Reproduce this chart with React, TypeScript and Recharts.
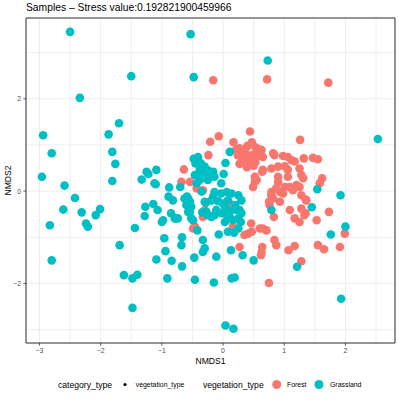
import { ScatterChart, Scatter, XAxis, YAxis, CartesianGrid, ReferenceArea } from "recharts";

const forest: number[][] = [
  [-0.16, 2.40], [0.72, 2.42], [1.72, 2.35], [0.44, 1.29], [1.26, 1.11], [-0.07, 1.19], [-0.21, 1.07], [0.17, 1.06], [-0.24, 0.78],
  [0.27, 0.93], [0.40, 0.98], [0.53, 0.95], [0.63, 0.89], [0.24, 0.78], [0.35, 0.82], [0.47, 0.78], [0.57, 0.76], [0.31, 0.67],
  [0.44, 0.63], [0.53, 0.63], [0.39, 0.52], [0.27, 0.59], [0.65, 0.74], [0.21, 0.89], [0.47, 1.06],
  [0.33, 0.72], [0.45, 0.70], [0.56, 0.85], [0.36, 0.90], [0.50, 0.55], [0.30, 0.80],
  [0.60, 0.90], [0.84, 0.78], [0.98, 0.76], [1.06, 0.74], [1.17, 0.64], [1.32, 0.71], [1.47, 0.72], [1.55, 0.69], [0.90, 0.53],
  [1.01, 0.54], [1.25, 0.49], [0.64, 0.42], [0.79, 0.49], [0.52, 0.31], [0.90, 0.31], [1.06, 0.31], [1.28, 0.35], [1.62, 0.28],
  [0.82, 0.82], [1.12, 0.67], [0.65, 0.46], [1.06, 0.46],
  [0.52, 0.20], [0.49, 0.09], [0.90, 0.20], [1.20, 0.13], [1.01, 0.09], [0.93, -0.02], [1.14, 0.02], [1.25, 0.09], [0.79, -0.02],
  [0.82, -0.16], [0.76, -0.30], [0.93, -0.23], [1.09, -0.41], [1.17, -0.59], [1.25, -0.67], [1.28, -0.38], [1.36, -0.20], [1.53, -0.63],
  [1.58, 0.17], [1.73, -0.45], [1.99, -0.92], [0.65, -0.81], [0.46, -0.70], [0.35, -0.95], [0.84, -1.06], [0.87, -1.17], [0.27, -1.21],
  [0.64, -1.21], [1.55, -1.17], [1.91, -1.21], [0.16, -0.77],
  [1.65, -1.26], [1.28, -1.52], [1.17, -1.19], [1.07, -1.28], [0.75, -1.99], [0.71, -0.85], [0.62, -1.39], [0.47, -0.88], [0.83, -0.56],
  [0.79, -0.09], [1.35, -0.48], [1.35, -0.18], [1.28, -0.09], [0.98, -0.05], [1.09, 0.09], [1.31, 0.28], [0.87, 0.06], [0.55, 0.24],
  [1.33, -0.52], [0.75, -0.23], [0.41, -0.92], [0.63, -1.32], [0.11, -0.27],
  [-0.64, 0.47], [-0.68, 0.20], [-0.54, 0.20], [-0.43, 0.06], [-0.33, 0.02], [-0.30, -0.41], [-0.49, -0.81], [-0.33, -0.56],
  [-0.46, -0.77], [0.08, -0.23], [0.60, -0.81],
];

const grassland: number[][] = [
  [-2.50, 3.45], [-0.53, 3.40], [-1.50, 2.49], [-0.48, 2.47], [-2.34, 2.02], [0.73, 2.83], [2.53, 1.13],
  [-2.94, 1.21], [-2.80, 0.82], [-2.96, 0.31], [-1.87, 1.23], [-1.70, 1.47], [-1.81, 0.85], [-1.76, 0.59], [-1.81, 0.22],
  [-2.59, 0.12], [-2.42, -0.15], [-2.61, -0.40], [-2.31, -0.46], [-2.83, -0.74], [-2.24, -0.70], [-2.21, -0.77], [-2.08, -0.52],
  [-2.01, -0.39], [-2.80, -1.50],
  [-1.33, 0.25], [-1.22, 0.37], [-1.25, 0.42], [-1.10, 0.15], [-1.44, -0.80], [-1.69, -1.17], [-1.62, -1.82], [-1.48, -1.89],
  [-1.40, -1.81], [-1.48, -2.53],
  [-1.27, -0.34], [-1.28, -0.54], [-1.14, -0.28], [-1.07, -0.41], [-1.00, -0.67], [-0.96, -1.02], [-0.94, -1.30], [-1.09, -1.48],
  [-0.84, -1.51], [-0.91, -1.89],
  [-0.67, -1.63], [-0.68, -1.17], [-0.67, -1.00], [-0.85, -0.48], [-0.76, -0.59], [-0.89, -0.12], [-0.88, 0.08], [-0.70, 0.09],
  [-0.59, -0.12], [-0.54, -0.23],
  [-0.54, -0.45], [-0.49, -0.63], [-0.42, -0.85], [-0.33, -1.06], [-0.33, -1.32], [-0.47, -1.44], [-0.46, -1.92], [-0.34, -0.46],
  [-0.28, -0.25], [-0.35, -0.01], [-0.43, 0.17],
  [1.54, 0.04], [1.92, -0.09], [2.00, -0.77], [1.76, -0.94], [1.45, -0.35], [0.79, -0.41], [1.21, -1.64], [1.93, -2.33],
  [-0.15, -1.98], [0.14, -1.89], [0.19, -1.87], [0.04, -2.91], [0.17, -2.98], [0.50, -1.50], [0.32, -1.39], [0.13, -1.28], [-0.11, -1.42],
  [-0.07, -0.94], [0.08, -0.88], [0.18, -0.90], [0.29, -0.67], [-0.03, 0.17], [0.11, 0.85], [0.04, 0.61], [0.01, 0.37],
  [-0.41, 0.74], [-0.45, 0.60], [-0.38, 0.46], [-0.30, 0.53], [-0.16, 0.42], [-0.14, 0.31], [-0.25, 0.24], [-0.38, 0.24],
  [-0.33, 0.38], [-0.46, 0.35],
  [-1.09, 0.46], [-1.12, 0.17], [-0.63, -0.16], [-0.60, -0.30], [-0.52, -0.59],
  [-0.30, -0.23], [-0.27, -0.45], [-0.19, -0.56], [-0.11, -0.41], [-0.19, -0.20], [-0.14, -0.02], [-0.03, -0.05], [0.06, -0.02],
  [0.14, -0.05], [0.25, -0.09],
  [0.30, -0.20], [0.27, -0.41], [0.14, -0.41], [0.03, -0.34], [0.11, -0.56], [0.25, -0.59], [-0.03, -0.48], [0.25, -0.81],
  [-0.98, -0.63], [-0.79, -0.59], [-0.74, -0.59], [-0.30, -1.24],
  [-0.48, 0.70], [-0.22, 0.38], [-0.16, -0.12], [0.00, -0.27], [-0.25, -0.52], [-0.14, -0.52], [0.22, -0.41], [0.30, -0.48],
  [0.16, -0.63], [0.03, -0.67], [-0.57, -0.16], [-0.52, -0.34], [-0.57, -0.45], [-0.82, -0.20],
  [-0.36, 0.60], [-0.25, 0.45], [-0.40, 0.32], [0.08, -0.20], [0.20, -0.30], [-0.08, -0.22], [0.05, -0.50],
];

const xTicks = [-3, -2.5, -2, -1.5, -1, -0.5, 0, 0.5, 1, 1.5, 2, 2.5];
const xLabelled = [-3, -2, -1, 0, 1, 2];
const yTicks = [-3, -2, -1, 0, 1, 2, 3];
const yLabelled = [-2, 0, 2];
const xDomain = [-3.22, 2.81];
const yDomain = [-3.29, 3.75];

const FOREST = "#F8766D";
const GRASS = "#00BFC4";
const FONT = "'Liberation Sans', Arial, Helvetica, sans-serif";

const toPoints = (rows: number[][]) => rows.map(([x, y]) => ({ x, y }));

const fmt = (v: number) => (v < 0 ? "\u2212" + Math.abs(v) : String(v));

function XTick(props: any) {
  const { x, y, payload } = props;
  if (!xLabelled.includes(payload.value)) return null;
  return (
    <g>
      <line x1={x} x2={x} y1={y - 5} y2={y - 2.3} stroke="#333333" strokeWidth={0.8} />
      <text x={x} y={y} dy="0.72em" textAnchor="middle" fill="#4D4D4D" fontSize={6.9} fontFamily={FONT}>
        {fmt(payload.value)}
      </text>
    </g>
  );
}

function YTick(props: any) {
  const { x, y, payload } = props;
  if (!yLabelled.includes(payload.value)) return null;
  return (
    <g>
      <line x1={x + 2.3} x2={x + 5} y1={y} y2={y} stroke="#333333" strokeWidth={0.8} />
      <text x={x} y={y} dy="0.35em" textAnchor="end" fill="#4D4D4D" fontSize={6.9} fontFamily={FONT}>
        {fmt(payload.value)}
      </text>
    </g>
  );
}

const dot = (color: string) => (p: any) => <circle cx={p.cx} cy={p.cy} r={4.3} fill={color} />;

export default function App() {
  return (
    <div style={{ position: "absolute", left: 0, top: 0, width: 399, height: 400, background: "#fff" }}>
      <ScatterChart width={399} height={400} margin={{ top: 18, right: 4, bottom: 33, left: 0 }}>
        <CartesianGrid stroke="#EBEBEB" strokeWidth={0.9} />
        <XAxis
          type="number"
          dataKey="x"
          domain={xDomain}
          ticks={xTicks}
          allowDataOverflow
          axisLine={false}
          tickLine={false}
          tickSize={3}
          tickMargin={2}
          height={24}
          tick={<XTick />}
          interval={0}
        />
        <YAxis
          type="number"
          dataKey="y"
          domain={yDomain}
          ticks={yTicks}
          allowDataOverflow
          axisLine={false}
          tickLine={false}
          tickSize={3}
          tickMargin={2}
          width={26}
          tick={<YTick />}
          interval={0}
        />
        <Scatter data={toPoints(forest)} shape={dot(FOREST)} isAnimationActive={false} />
        <Scatter data={toPoints(grassland)} shape={dot(GRASS)} isAnimationActive={false} />
        <ReferenceArea
          x1={xDomain[0]}
          x2={xDomain[1]}
          y1={yDomain[0]}
          y2={yDomain[1]}
          fill="none"
          stroke="#333333"
          strokeWidth={1}
          ifOverflow="visible"
        />
      </ScatterChart>
      <svg
        width={399}
        height={400}
        style={{ position: "absolute", left: 0, top: 0, pointerEvents: "none" }}
        fontFamily={FONT}
      >
        <text x={26} y={11} fontSize={10.3} fill="#000">
          Samples – Stress value:0.192821900459966
        </text>
        <text x={210.5} y={364} fontSize={8.6} fill="#000" textAnchor="middle">
          NMDS1
        </text>
        <text x={11.4} y={180.5} fontSize={8.6} fill="#000" textAnchor="middle" transform="rotate(-90 11.4 180.5)">
          NMDS2
        </text>
        <text x={58} y={385} dy="0.35em" fontSize={8.6} fill="#000">
          category_type
        </text>
        <circle cx={125} cy={384.5} r={1.6} fill="#000" />
        <text x={135.7} y={385} dy="0.35em" fontSize={6.9} fill="#000">
          vegetation_type
        </text>
        <text x={203} y={385} dy="0.35em" fontSize={8.6} fill="#000">
          vegetation_type
        </text>
        <circle cx={276.7} cy={384.5} r={4.5} fill={FOREST} />
        <text x={287} y={385} dy="0.35em" fontSize={6.9} fill="#000">
          Forest
        </text>
        <circle cx={319} cy={384.5} r={4.5} fill={GRASS} />
        <text x={330} y={385} dy="0.35em" fontSize={6.9} fill="#000">
          Grassland
        </text>
      </svg>
    </div>
  );
}
